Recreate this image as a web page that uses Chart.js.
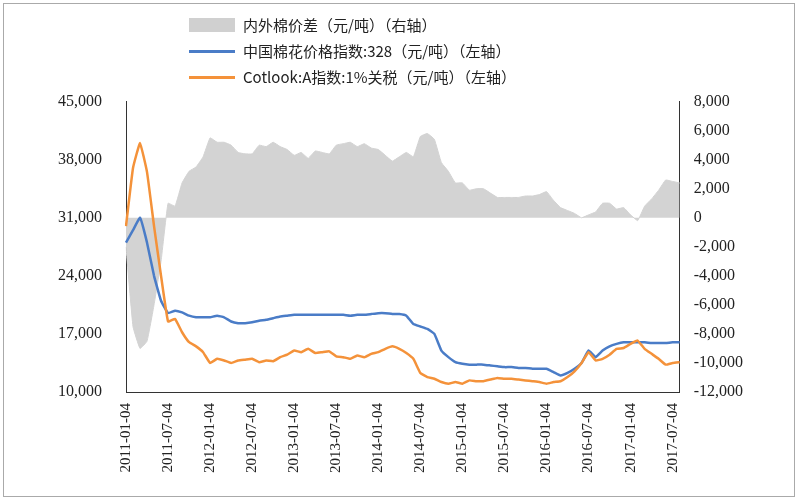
<!DOCTYPE html>
<html>
<head>
<meta charset="utf-8">
<script src="https://cdn.jsdelivr.net/npm/chart.js@4"></script>
<style>
    body { margin: 0; background: #fff; }
    #wrap { position: relative; width: 790px; height: 492px; margin: 3px; border: 1px solid #aaa; }
    #legend { position: absolute; left: 185px; top: 8px; font-family: "Noto Sans CJK SC", "Liberation Serif"; font-size: 15px; color: #222; z-index: 2; }
    #legend div { height: 26px; line-height: 26px; display: flex; align-items: center; }
    .sw { display: inline-block; width: 46px; margin-right: 8px; }
    #chartBox { position: absolute; left: 0; top: 72px; width: 790px; height: 418px; }
</style>
</head>
<body>
<div id="wrap">
    <div id="legend">
        <div><span class="sw" style="height:14px;background:#d0d0d0"></span>内外棉价差（元/吨）（右轴）</div>
        <div><span class="sw" style="height:3px;background:#4a7cc7"></span>中国棉花价格指数:328（元/吨）（左轴）</div>
        <div><span class="sw" style="height:3px;background:#f4923a"></span>Cotlook:A指数:1%关税（元/吨）（左轴）</div>
    </div>
    <div id="chartBox"><canvas id="c"></canvas></div>
</div>
<script>
// monthly points, 2011-01 .. 2017-08
const months = [];
for (let y = 2011; y <= 2017; y++) {
    for (let m = 1; m <= 12; m++) {
        if (y === 2017 && m > 8) break;
        months.push(y + "-" + String(m).padStart(2, "0") + "-04");
    }
}

const chinaIndex = [
    28000, 29500, 31000, 28000, 24000, 21000, 19500, 19800, 19600, 19200, 19000, 19000,
    19000, 19200, 19000, 18500, 18300, 18300, 18400, 18600, 18700, 18900, 19100, 19200,
    19300, 19300, 19300, 19300, 19300, 19300, 19300, 19300, 19200, 19300, 19300, 19400,
    19500, 19500, 19400, 19400, 19200, 18200, 17900, 17600, 17000, 15000, 14200, 13600,
    13400, 13300, 13300, 13300, 13200, 13100, 13000, 13000, 12900, 12900, 12800, 12800,
    12800, 12400, 12000, 12300, 12800, 13500, 15000, 14200, 15000, 15500, 15800, 16000,
    16000, 16000, 16000, 15900, 15900, 15900, 16000, 16000
];

const cotlookIndex = [
    30000, 37000, 40000, 36500, 30000, 24000, 18500, 18800, 17200, 16000, 15500, 14800,
    13500, 14000, 13800, 13500, 13800, 13900, 14000, 13600, 13800, 13700, 14200, 14500,
    15000, 14800, 15200, 14700, 14800, 14900, 14300, 14200, 14000, 14400, 14200, 14600,
    14800, 15200, 15500, 15200, 14700, 14000, 12300, 11800, 11600, 11200, 11000, 11200,
    11000, 11400, 11300, 11300, 11500, 11700, 11600, 11600, 11500, 11400, 11300, 11200,
    11000, 11200, 11300, 11800, 12500, 13500, 14800, 13800, 14000, 14500, 15200, 15300,
    15800, 16200, 15200, 14600, 14000, 13300, 13500, 13600
];

const priceGap = [
    -2000, -7500, -9000, -8500, -6000, -3000, 1000, 800, 2400, 3200, 3500, 4200,
    5500, 5200, 5200, 5000, 4500, 4400, 4400, 5000, 4900, 5200, 4900, 4700,
    4300, 4500, 4100, 4600, 4500, 4400, 5000, 5100, 5200, 4900, 5100, 4800,
    4700, 4300, 3900, 4200, 4500, 4200, 5600, 5800, 5400, 3800, 3200, 2400,
    2400, 1900, 2000, 2000, 1700, 1400, 1400, 1400, 1400, 1500, 1500, 1600,
    1800, 1200, 700, 500, 300, 0, 200, 400, 1000, 1000, 600, 700,
    200, -200, 800, 1300, 1900, 2600, 2500, 2400
];

const leftTicks = [10000, 17000, 24000, 31000, 38000, 45000];
const rightTicks = [-12000, -10000, -8000, -6000, -4000, -2000, 0, 2000, 4000, 6000, 8000];

const tickFont = { family: "Liberation Serif", size: 16 };

new Chart(document.getElementById("c"), {
    type: "line",
    data: {
        labels: months,
        datasets: [
            { label: "中国棉花价格指数:328", data: chinaIndex, yAxisID: "y",
              borderColor: "#4a7cc7", borderWidth: 2.5, pointRadius: 0, tension: 0.1, order: 1 },
            { label: "Cotlook:A指数:1%关税", data: cotlookIndex, yAxisID: "y",
              borderColor: "#f4923a", borderWidth: 2.5, pointRadius: 0, tension: 0.1, order: 0 },
            { label: "内外棉价差", data: priceGap, yAxisID: "y1",
              borderColor: "#d3d3d3", backgroundColor: "#d3d3d3", borderWidth: 1,
              pointRadius: 0, fill: "origin", tension: 0.1, order: 2 }
        ]
    },
    options: {
        responsive: true,
        maintainAspectRatio: false,
        animation: false,
        layout: { padding: { left: 38, right: 45, top: 6, bottom: 18 } },
        plugins: { legend: { display: false }, tooltip: { enabled: false } },
        scales: {
            x: {
                grid: { display: false },
                border: { color: "#333" },
                ticks: {
                    autoSkip: false, maxRotation: 90, minRotation: 90,
                    font: { family: "Liberation Serif", size: 15 }, color: "#222",
                    callback: function (v, i) { return i % 6 === 0 ? months[i] : null; }
                }
            },
            y: {
                position: "left", min: 10000, max: 45000,
                afterBuildTicks: function (axis) { axis.ticks = leftTicks.map(v => ({ value: v })); },
                grid: { display: false },
                border: { color: "#333" },
                ticks: { font: tickFont, color: "#222", padding: 16,
                         callback: v => v.toLocaleString("en-US") }
            },
            y1: {
                position: "right", min: -12000, max: 8000,
                afterBuildTicks: function (axis) { axis.ticks = rightTicks.map(v => ({ value: v })); },
                grid: { display: false },
                border: { color: "#333" },
                ticks: { font: tickFont, color: "#222", padding: 6,
                         callback: v => v.toLocaleString("en-US") }
            }
        }
    }
});
</script>
</body>
</html>
